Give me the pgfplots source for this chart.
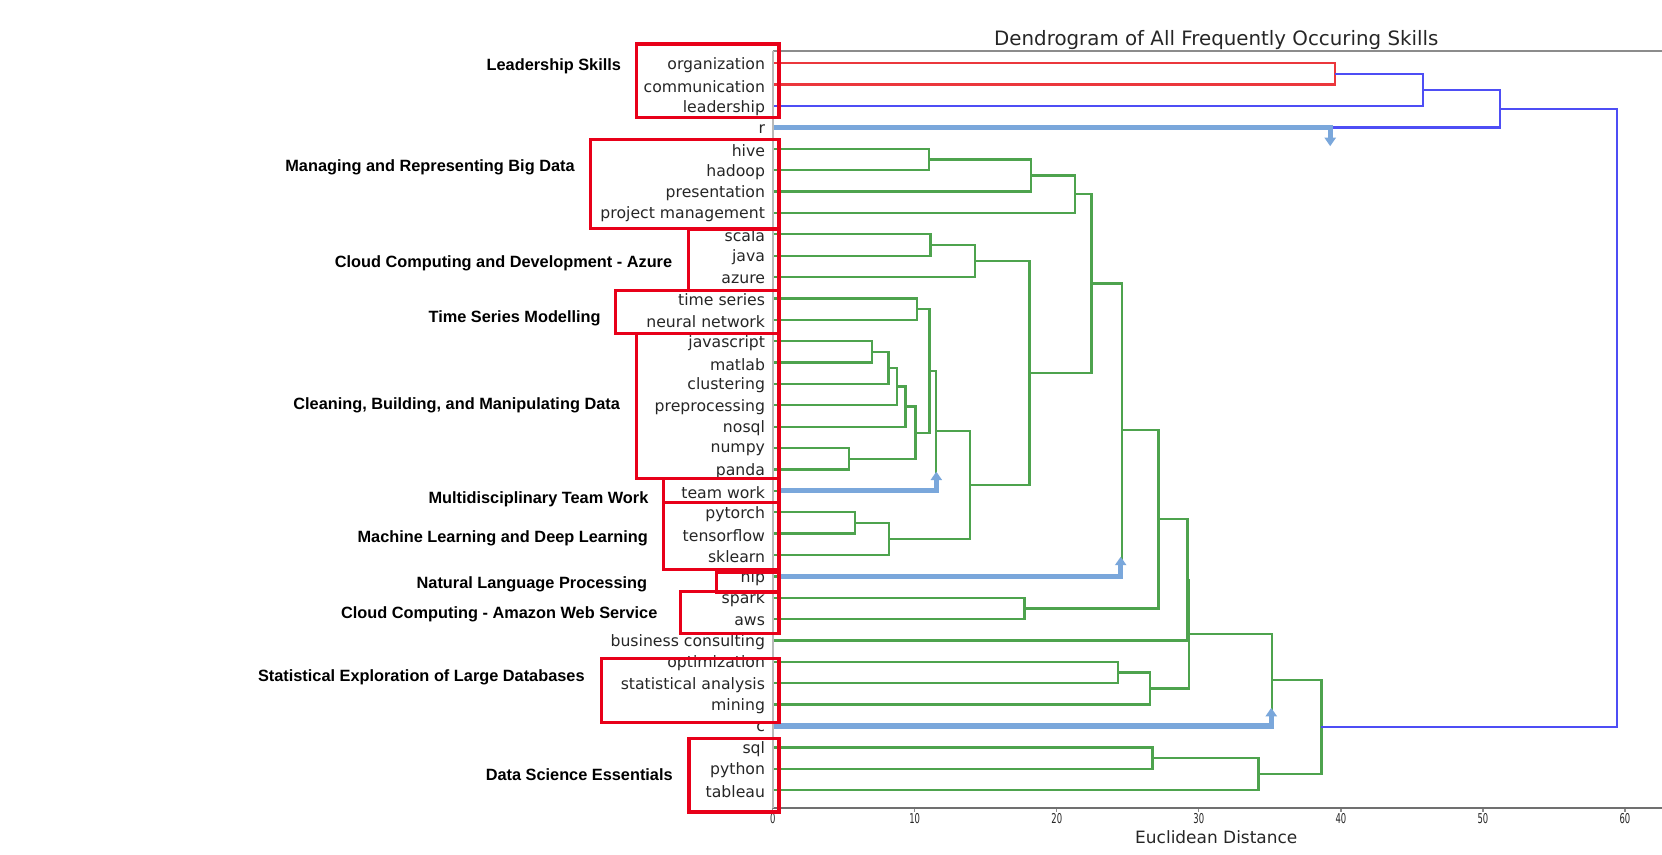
\documentclass[border=0pt]{standalone}
\usepackage{pgfplots}
\pgfplotsset{compat=1.18}
\usetikzlibrary{arrows.meta}
\usepackage{fontspec}
\setmainfont{DejaVu Sans}
\newfontfamily\grp{Liberation Sans}
\newfontfamily\tickfont{DejaVu Sans}[FakeStretch=0.62]
\definecolor{dgreen}{RGB}{78,163,78}
\definecolor{dred}{RGB}{235,55,60}
\definecolor{dblue}{RGB}{78,78,245}
\definecolor{boxred}{RGB}{232,0,25}
\definecolor{arrowblue}{RGB}{122,167,219}
\definecolor{spinec}{RGB}{140,140,140}
\definecolor{txt}{RGB}{38,38,38}
\begin{document}
\begin{tikzpicture}
\useasboundingbox (-364.5pt,-22pt) rectangle (419.5pt,381pt);
\begin{axis}[
  scale only axis, width=418.5pt, height=357pt,
  xmin=0, xmax=62.46, ymin=-0.82, ymax=34.58,
  axis line style={draw=none},
  xtick={0,10,...,60}, xtick pos=bottom, tick align=outside,
  major tick length=2pt,
  xtick style={draw=spinec, line width=0.6pt},
  ytick={0,...,34}, ytick style={draw=none}, ytick pos=left,
  yticklabels={tableau,python,sql,c,mining,statistical analysis,optimization,business consulting,aws,spark,nlp,sklearn,tensorflow,pytorch,team work,panda,numpy,nosql,preprocessing,clustering,matlab,javascript,neural network,time series,azure,java,scala,project management,presentation,hadoop,hive,r,leadership,communication,organization},
  yticklabel style={font=\fontsize{7.4}{9}\selectfont, text=txt, xshift=1.9pt, yshift=-0.8pt},
  xticklabel style={font=\tickfont\fontsize{6.4}{7}\selectfont, text=txt, yshift=2.6pt},
  /pgf/number format/assume math mode=true,
  clip=false,
  link/.style={line width=1.1pt, line join=miter},
  arr/.style={arrowblue, line width=2.4pt, line join=miter, -{Triangle[length=4pt,width=5.2pt]}},
]
% green cluster
\addplot[dgreen, link] coordinates {(0,30)(11,30)(11,29)(0,29)};
\addplot[dgreen, link] coordinates {(11,29.5)(18.2,29.5)(18.2,28)(0,28)};
\addplot[dgreen, link] coordinates {(18.2,28.75)(21.3,28.75)(21.3,27)(0,27)};
\addplot[dgreen, link] coordinates {(0,26)(11.1,26)(11.1,25)(0,25)};
\addplot[dgreen, link] coordinates {(11.1,25.5)(14.25,25.5)(14.25,24)(0,24)};
\addplot[dgreen, link] coordinates {(0,23)(10.15,23)(10.15,22)(0,22)};
\addplot[dgreen, link] coordinates {(0,21)(7.0,21)(7.0,20)(0,20)};
\addplot[dgreen, link] coordinates {(7.0,20.5)(8.15,20.5)(8.15,19)(0,19)};
\addplot[dgreen, link] coordinates {(8.15,19.75)(8.74,19.75)(8.74,18)(0,18)};
\addplot[dgreen, link] coordinates {(8.74,18.875)(9.35,18.875)(9.35,17)(0,17)};
\addplot[dgreen, link] coordinates {(0,16)(5.35,16)(5.35,15)(0,15)};
\addplot[dgreen, link] coordinates {(9.35,17.9375)(10.05,17.9375)(10.05,15.5)(5.35,15.5)};
\addplot[dgreen, link] coordinates {(10.15,22.5)(11.03,22.5)(11.03,16.71875)(10.05,16.71875)};
\addplot[dgreen, link] coordinates {(11.03,19.609375)(11.52,19.609375)(11.52,14)(0,14)};
\addplot[dgreen, link] coordinates {(0,13)(5.78,13)(5.78,12)(0,12)};
\addplot[dgreen, link] coordinates {(5.78,12.5)(8.2,12.5)(8.2,11)(0,11)};
\addplot[dgreen, link] coordinates {(11.52,16.8047)(13.87,16.8047)(13.87,11.75)(8.2,11.75)};
\addplot[dgreen, link] coordinates {(14.25,24.75)(18.08,24.75)(18.08,14.2773)(13.87,14.2773)};
\addplot[dgreen, link] coordinates {(21.3,27.875)(22.44,27.875)(22.44,19.5137)(18.08,19.5137)};
\addplot[dgreen, link] coordinates {(22.44,23.6943)(24.57,23.6943)(24.57,10)(0,10)};
\addplot[dgreen, link] coordinates {(0,9)(17.73,9)(17.73,8)(0,8)};
\addplot[dgreen, link] coordinates {(24.57,16.8472)(27.15,16.8472)(27.15,8.5)(17.73,8.5)};
\addplot[dgreen, link] coordinates {(27.15,12.6736)(29.2,12.6736)(29.2,7)(0,7)};
\addplot[dgreen, link] coordinates {(0,6)(24.3,6)(24.3,5)(0,5)};
\addplot[dgreen, link] coordinates {(24.3,5.5)(26.54,5.5)(26.54,4)(0,4)};
\addplot[dgreen, link] coordinates {(29.2,9.8368)(29.3,9.8368)(29.3,4.75)(26.54,4.75)};
\addplot[dgreen, link] coordinates {(29.3,7.2934)(35.16,7.2934)(35.16,3)(0,3)};
\addplot[dgreen, link] coordinates {(0,2)(26.75,2)(26.75,1)(0,1)};
\addplot[dgreen, link] coordinates {(26.75,1.5)(34.2,1.5)(34.2,0)(0,0)};
\addplot[dgreen, link] coordinates {(35.16,5.1467)(38.63,5.1467)(38.63,0.75)(34.2,0.75)};
% red and blue
\addplot[dred, link] coordinates {(0,34)(39.6,34)(39.6,33)(0,33)};
\addplot[dblue, link] coordinates {(39.6,33.5)(45.8,33.5)(45.8,32)(0,32)};
\addplot[dblue, link] coordinates {(45.8,32.75)(51.2,32.75)(51.2,31)(0,31)};
\addplot[dblue, link] coordinates {(51.2,31.875)(59.45,31.875)(59.45,2.9484)(38.63,2.9484)};
% annotation arrows
\addplot[arr] coordinates {(0,31)(39.25,31)(39.25,30.12)};
\addplot[arr] coordinates {(0.45,14)(11.52,14)(11.52,14.9)};
\addplot[arr] coordinates {(0.45,10)(24.5,10)(24.5,10.92)};
\addplot[arr] coordinates {(0,3)(35.1,3)(35.1,3.85)};
\end{axis}
% spines
\draw[spinec, line width=1pt] (0,357pt) -- (419.5pt,357pt);
\draw[spinec!80!black, line width=0.9pt] (0,0) -- (419.5pt,0);
\draw[spinec!60, line width=0.8pt] (0,0) -- (0,357pt);
\begin{scope}[shift={(-364.5pt,381pt)}, x=0.5pt, y=-0.5pt]
\node[text=txt, font=\fontsize{9.35}{11}\selectfont] at (1147.5,37.5) {Dendrogram of All Frequently Occuring Skills};
\node[text=txt, font=\fontsize{8}{10}\selectfont] at (1147.5,790) {Euclidean Distance};
\begin{scope}[every node/.style={font=\grp\bfseries\fontsize{7.7}{9}\selectfont, text=black}]
\node at (522.5,63) {Leadership Skills};
\node at (405.7,158) {Managing and Representing Big Data};
\node at (475,248.4) {Cloud Computing and Development - Azure};
\node at (485.5,300.3) {Time Series Modelling};
\node at (430.8,382) {Cleaning, Building, and Manipulating Data};
\node at (508,470.8) {Multidisciplinary Team Work};
\node at (474.3,508) {Machine Learning and Deep Learning};
\node at (501.8,551) {Natural Language Processing};
\node at (471,579.3) {Cloud Computing - Amazon Web Service};
\node at (397.5,639) {Statistical Exploration of Large Databases};
\node at (546.5,731) {Data Science Essentials};
\end{scope}
\begin{scope}[boxred, line width=1.5pt]
\draw (600.4,41.5) rectangle (735,110.7);
\draw (557,132) rectangle (735,215.5);
\draw (649.4,216) rectangle (735,274);
\draw (580.8,274) rectangle (735,314.5);
\draw (600.6,314.5) rectangle (735,451.3);
\draw (625.8,451.3) rectangle (735,474);
\draw (625.8,474) rectangle (735,537);
\draw (676,539.6) rectangle (735,559);
\draw (642,558) rectangle (735,597.5);
\draw (567.6,621) rectangle (735,682);
\draw (650,696.5) rectangle (735,766);
\end{scope}
\end{scope}
\end{tikzpicture}
\end{document}
